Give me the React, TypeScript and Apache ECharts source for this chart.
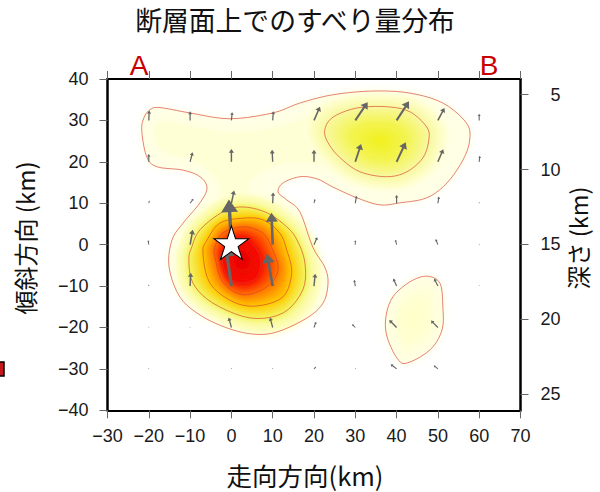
import React, { useEffect, useRef } from "react";
import * as echarts from "echarts";

const xTicks = [-30, -20, -10, 0, 10, 20, 30, 40, 50, 60, 70];
const yTicks = [-40, -30, -20, -10, 0, 10, 20, 30, 40];
const depthTicks = [5, 10, 15, 20, 25];

// slip contours, in km
const contourOuter = [[-21.7,27.4],[-21.2,30.6],[-19.7,32.6],[-17.3,33.1],[-10,31.8],[-0.4,30.4],[10,31.8],[16.6,34.2],[24.6,36.2],[34.3,37.1],[43.2,36.6],[51.2,34.2],[56.9,29.4],[57.7,25.3],[56.1,20.5],[52.2,14.9],[47.3,11.3],[40.8,10.1],[36,9.6],[30.4,11.3],[24.6,13.9],[20.7,15.9],[16.6,16.4],[12.5,14.9],[11.3,12.7],[13.4,10.8],[16.6,7.9],[19.7,-0.6],[22.6,-5.4],[23.4,-9.3],[22.2,-14.1],[18.3,-17.7],[11,-21.1],[5.2,-21.6],[-1.1,-20.1],[-7.6,-17],[-12.5,-12.6],[-15.1,-5.4],[-14.4,1.1],[-11.7,5.2],[-7.6,10.1],[-5.9,13.7],[-7.6,16.4],[-11.7,18],[-18,18.8],[-20.5,21.2]];
const contourMainB = [[2.8,9.1],[-2.1,7.9],[-7.6,3.6],[-9.6,-0.6],[-10.3,-3.7],[-9.3,-9.3],[-4.5,-14.1],[4.5,-17.7],[12.5,-16.5],[17.3,-10.9],[17.8,-4.4],[15.9,1.1],[13.4,4.3],[8.6,7.7]];
const contourMainC = [[2.8,6.4],[-2.8,5.2],[-5.9,1.1],[-6.9,-2],[-5.2,-9.3],[0.4,-13.8],[6.2,-14.8],[12.5,-12.6],[14.6,-6.8],[13.4,-1.3],[11.7,2.8],[7.6,6]];
const contourMainD = [[2.8,4.3],[-2.1,2.8],[-4,-0.6],[-4,-3],[-2.1,-9],[2.8,-12.1],[8.6,-10.2],[11.3,-6.1],[10,-1.3],[7.6,2.8]];
const contourMainE = [[0.4,1.1],[-2.3,-2.5],[-0.8,-7.8],[2.8,-9.3],[6.2,-7.8],[7.1,-3.7],[5.7,-0.6],[3.3,1.6]];
const contourUpper = [[22.6,27.7],[24.6,30.8],[30.4,33],[37.6,33.3],[43.2,32.1],[47.3,28.4],[47.8,25.3],[46.4,21],[42.5,17.6],[37.6,16.4],[31.1,17.6],[26.3,21],[23.4,24.6]];
const contourLower = [[47.3,-7.6],[50.5,-9.3],[51.2,-15],[51,-20.6],[48.1,-25.4],[42.5,-28.6],[40.1,-27.4],[37.7,-22.3],[37.4,-17.5],[39.1,-12.6],[43.2,-9]];
// paler band along the upper-left lobe, with no contour line of its own
const bandLobe = [[-18,29.5],[-10,28.5],[0,27],[10,28],[18,30],[26,29],[25,20],[14,20],[6,17],[3,12],[-2,10],[-3,15],[-8,20],[-17,23]];

// slip vectors: x, y, dx, dy (km)
const slipRow30 = [[-20,30,0.1,2.4],[-10,30,0,2.2],[0,30,0.2,2],[10,30,0.15,2.2],[20,30,1.45,3.3],[30,30,3,4.4],[40,30,3,4.6],[50,30,1.6,3],[60,30,0,1.6]];
const slipRow20 = [[-20,20,0,1.9],[-10,20,0.6,2.3],[0,20,0,3.1],[10,20,-0.15,2.9],[20,20,0,2.9],[30,20,1.4,4.3],[40,20,2.2,4.7],[50,20,1.3,3.05],[60,20,0.15,1.45]];
const slipRow10 = [[-20,10,0.15,0.65],[-10,10,0.8,1.1],[0,10,0.65,3.05],[10,10,0.1,2.6],[20,10,0.25,1],[30,10,0.3,1.8],[40,10,0,2],[50,10,0.25,1.6],[60,10,0,0.3]];
const slipRow0 = [[-20,0,-0.15,1.05],[-10,0,0.65,3.6],[0,0,-0.6,10.9],[10,0,-0.3,7.7],[20,0,0.8,1.8],[30,0,0,1.05],[40,0,-0.3,1.2],[50,0,-0.55,1.35],[60,0,0,0.2]];
const slipRowM10 = [[-20,-10,0,0.35],[-10,-10,0.15,3.2],[0,-10,-1.4,9.8],[10,-10,-1.4,7.8],[20,-10,0.3,3],[30,-10,-0.25,1.5],[40,-10,-0.8,1.8],[50,-10,-0.9,1.8],[60,-10,0,0.2]];
const slipRowM20 = [[-20,-20,0,0.2],[-10,-20,0,0.2],[0,-20,-0.65,2.4],[10,-20,-0.65,2.4],[20,-20,0.5,1.4],[30,-20,-0.8,0.8],[40,-20,-1.8,1.8],[50,-20,-1.7,1.7]];
const slipRowM30 = [[-20,-30,0,0.2],[0,-30,0,0.2],[10,-30,0,0.2],[20,-30,0.5,0.5],[30,-30,0,0.2],[40,-30,-1.45,1.1],[50,-30,-1,0.8]];
const epicentre = [[0, 0]];

const STAR = "path://M50 0 L61.23 34.55 L97.55 34.55 L68.16 55.9 L79.39 90.45 L50 69.1 L20.61 90.45 L31.84 55.9 L2.45 34.55 L38.77 34.55 Z";

const slip = [...slipRow30, ...slipRow20, ...slipRow10, ...slipRow0, ...slipRowM10, ...slipRowM20, ...slipRowM30];

// Closed Catmull-Rom curve through the contour's read-off vertices.
function curve(pts: number[][], n = 5) {
  const out: number[][] = [];
  const m = pts.length;
  for (let i = 0; i < m; i++) {
    const p0 = pts[(i - 1 + m) % m], p1 = pts[i], p2 = pts[(i + 1) % m], p3 = pts[(i + 2) % m];
    for (let j = 0; j < n; j++) {
      const t = j / n, t2 = t * t, t3 = t2 * t;
      out.push([0, 1].map((d) => 0.5 * (2 * p1[d] + (p2[d] - p0[d]) * t + (2 * p0[d] - 5 * p1[d] + 4 * p2[d] - p3[d]) * t2 + (3 * p1[d] - p0[d] - 3 * p2[d] + p3[d]) * t3)));
    }
  }
  return out;
}

const SPOKES = 90;
function radial(pts: number[][], c: number[]) {
  const rs: number[] = [];
  for (let i = 0; i < SPOKES; i++) {
    const a = (i / SPOKES) * 2 * Math.PI, ux = Math.cos(a), uy = Math.sin(a);
    let best = 0;
    for (let j = 0; j < pts.length; j++) {
      const p = pts[j], q = pts[(j + 1) % pts.length];
      const ex = q[0] - p[0], ey = q[1] - p[1];
      const det = ux * ey - uy * ex;
      if (Math.abs(det) < 1e-9) continue;
      const t = ((p[0] - c[0]) * ey - (p[1] - c[1]) * ex) / det;
      const s = ((p[0] - c[0]) * uy - (p[1] - c[1]) * ux) / det;
      if (t > best && s >= 0 && s <= 1) best = t;
    }
    rs.push(best);
  }
  return rs;
}
const hex = (c: string) => [1, 3, 5].map((i) => parseInt(c.slice(i, i + 2), 16));
const mix = (a: string, b: string, t: number) => {
  const A = hex(a), B = hex(b);
  return `rgb(${A.map((v, i) => Math.round(v + (B[i] - v) * t)).join(",")})`;
};

type Layer = { pts: number[][]; fill: string; blur: number };
type Stop = [number[][], number, string];
function ramp(center: number[], stops: Stop[], steps: number, firstBlur: number): Layer[] {
  const rr = stops.map(([p, k]) => radial(curve(p), center).map((r) => r * k));
  const res: Layer[] = [];
  for (let s = 0; s < stops.length - 1; s++) {
    for (let j = 0; j < steps; j++) {
      const t = j / steps;
      const pts = rr[s].map((r, i) => {
        const R = r + (rr[s + 1][i] - r) * t, a = (i / SPOKES) * 2 * Math.PI;
        return [center[0] + R * Math.cos(a), center[1] + R * Math.sin(a)];
      });
      res.push({ pts, fill: mix(stops[s][2], stops[s + 1][2], t), blur: res.length === 0 ? firstBlur : 2 });
    }
  }
  return res;
}

const fills: Layer[] = [
  { pts: curve(contourOuter), fill: "#FFFFE6", blur: 10 },
  { pts: curve(contourLower), fill: "#FFFFE6", blur: 10 },
  { pts: curve(bandLobe), fill: "#FFFFD6", blur: 14 },
  ...ramp([44, -18], [[contourLower, 0.9, "#FFFFE0"], [contourLower, 0.5, "#FFFFD0"], [contourLower, 0.05, "#FFFFC8"]], 3, 8),
  ...ramp([36, 25], [[contourUpper, 1.38, "#FFFFD8"], [contourUpper, 1, "#F8F89C"], [contourUpper, 0.55, "#F3F350"], [contourUpper, 0.05, "#F0F020"]], 6, 8),
  ...ramp([2.5, -3.5], [[contourMainB, 1.25, "#FEFECC"], [contourMainB, 1.08, "#F9F99A"], [contourMainB, 1, "#F3F360"], [contourMainC, 1, "#FFC800"], [contourMainD, 1, "#FF7000"], [contourMainE, 1, "#F81000"], [contourMainE, 0.05, "#E60000"]], 8, 8),
];
const lines = [contourOuter, contourLower, contourUpper, contourMainB, contourMainC, contourMainD, contourMainE].map((c) => curve(c));

const FONT_CJK = '"Noto Sans CJK JP", sans-serif';
const FONT_LAT = '"Liberation Sans", Arial, sans-serif';
const AXIS = "#000";
const TICK = { show: true, inside: false, length: 8, lineStyle: { color: "#666", width: 1 } };
const signed = (v: number) => String(v).replace("-", "\u2212");

function App() {
  const ref = useRef<HTMLDivElement>(null);
  useEffect(() => {
    const chart = echarts.init(ref.current!, null, { renderer: "svg" });
    chart.setOption({
      animation: false,
      backgroundColor: "#fff",
      grid: { left: 107.5, top: 79, width: 413, height: 331.3 },
      xAxis: [
        {
          type: "value", position: "bottom", min: -30, max: 70, interval: 10,
          axisLine: { show: true, onZero: false, lineStyle: { color: AXIS, width: 2 } },
          axisTick: TICK, splitLine: { show: false },
          axisLabel: { margin: 17, fontSize: 18, color: "#1a1a1a", fontFamily: FONT_LAT, formatter: signed },
        },
        {
          type: "value", position: "top", min: -30, max: 70, interval: 10,
          axisLine: { show: true, onZero: false, lineStyle: { color: AXIS, width: 2 } },
          axisTick: TICK, splitLine: { show: false }, axisLabel: { show: false },
        },
      ],
      yAxis: [
        {
          type: "value", position: "left", min: -40, max: 40, interval: 10,
          axisLine: { show: true, onZero: false, lineStyle: { color: AXIS, width: 2.5 } },
          axisTick: TICK, splitLine: { show: false },
          axisLabel: { margin: 19, fontSize: 18, color: "#1a1a1a", fontFamily: FONT_LAT, formatter: signed },
        },
        {
          type: "value", position: "right", inverse: true, min: 3.95, max: 26.09,
          axisLine: { show: true, onZero: false, lineStyle: { color: AXIS, width: 2.5 } },
          axisTick: { ...TICK, customValues: depthTicks },
          splitLine: { show: false },
          axisLabel: { margin: 40, align: "right", fontSize: 18, color: "#1a1a1a", fontFamily: FONT_LAT, customValues: depthTicks },
        },
      ],
      series: [
        {
          type: "custom", silent: true, clip: true, coordinateSystem: "cartesian2d", xAxisIndex: 0, yAxisIndex: 0, z: 1,
          data: fills.map((_, i) => [i]),
          renderItem: (params: any, api: any) => {
            const l = fills[api.value(0)];
            return {
              type: "polygon",
              shape: { points: l.pts.map((p) => api.coord(p)) },
              style: l.blur ? { fill: l.fill, shadowBlur: l.blur, shadowColor: l.fill } : { fill: l.fill },
            };
          },
        },
        {
          type: "custom", silent: true, clip: true, coordinateSystem: "cartesian2d", xAxisIndex: 0, yAxisIndex: 0, z: 2,
          data: lines.map((_, i) => [i]),
          renderItem: (params: any, api: any) => ({
            type: "polygon",
            shape: { points: lines[api.value(0)].map((p) => api.coord(p)) },
            style: { fill: "none", stroke: "rgba(215,60,45,0.8)", lineWidth: 0.8 },
          }),
        },
        {
          type: "custom", silent: true, clip: false, coordinateSystem: "cartesian2d", xAxisIndex: 0, yAxisIndex: 0, z: 3,
          data: slip,
          renderItem: (params: any, api: any) => {
            const x = api.value(0), y = api.value(1);
            const a = api.coord([x, y]);
            const b = api.coord([x + api.value(2), y + api.value(3)]);
            const dx = b[0] - a[0], dy = b[1] - a[1];
            const L = Math.hypot(dx, dy) || 1;
            const ux = dx / L, uy = dy / L, nx = -uy, ny = ux;
            const w = (0.7 + 0.06 * L) / 2;
            const hl = Math.min(L, 0.27 * L + 0.4);
            const hw = (0.36 * L + 0.6) / 2;
            const bx = b[0] - ux * hl, by = b[1] - uy * hl;
            return {
              type: "polygon",
              shape: {
                points: [
                  [a[0] + nx * w, a[1] + ny * w],
                  [bx + nx * w, by + ny * w],
                  [bx + nx * hw, by + ny * hw],
                  [b[0], b[1]],
                  [bx - nx * hw, by - ny * hw],
                  [bx - nx * w, by - ny * w],
                  [a[0] - nx * w, a[1] - ny * w],
                ],
              },
              style: { fill: "#666666" },
            };
          },
        },
        {
          type: "scatter", silent: true, xAxisIndex: 0, yAxisIndex: 0, z: 4,
          data: epicentre, symbol: STAR, symbolSize: [35, 33.5], symbolOffset: [0, -2],
          itemStyle: { color: "#fff", borderColor: "#000", borderWidth: 1, opacity: 1 },
        },
      ],
      graphic: [
        { type: "text", x: 295, y: 19, style: { text: "断層面上でのすべり量分布", font: `26.8px ${FONT_CJK}`, fill: "#111", align: "center", verticalAlign: "middle" } },
        { type: "text", x: 139, y: 65, style: { text: "A", font: `28px ${FONT_LAT}`, fill: "#C80000", align: "center", verticalAlign: "middle" } },
        { type: "text", x: 489, y: 65, style: { text: "B", font: `28px ${FONT_LAT}`, fill: "#C80000", align: "center", verticalAlign: "middle" } },
        { type: "text", x: 305, y: 474, style: { text: "走向方向(km)", font: `25.5px ${FONT_CJK}`, fill: "#111", align: "center", verticalAlign: "middle" } },
        { type: "text", x: 24, y: 238, rotation: Math.PI / 2, style: { text: "傾斜方向 (km)", font: `24px ${FONT_CJK}`, fill: "#111", align: "center", verticalAlign: "middle" } },
        { type: "text", x: 578, y: 238, rotation: Math.PI / 2, style: { text: "深さ (km)", font: `23.5px ${FONT_CJK}`, fill: "#111", align: "center", verticalAlign: "middle" } },
        { type: "rect", shape: { x: -6, y: 362, width: 10, height: 14 }, style: { fill: "#C8161D", stroke: "#000", lineWidth: 1.5 } },
      ],
    });
    return () => chart.dispose();
  }, []);
  return <div ref={ref} style={{ position: "fixed", left: 0, top: 0, width: 600, height: 492 }} />;
}

export default App;
